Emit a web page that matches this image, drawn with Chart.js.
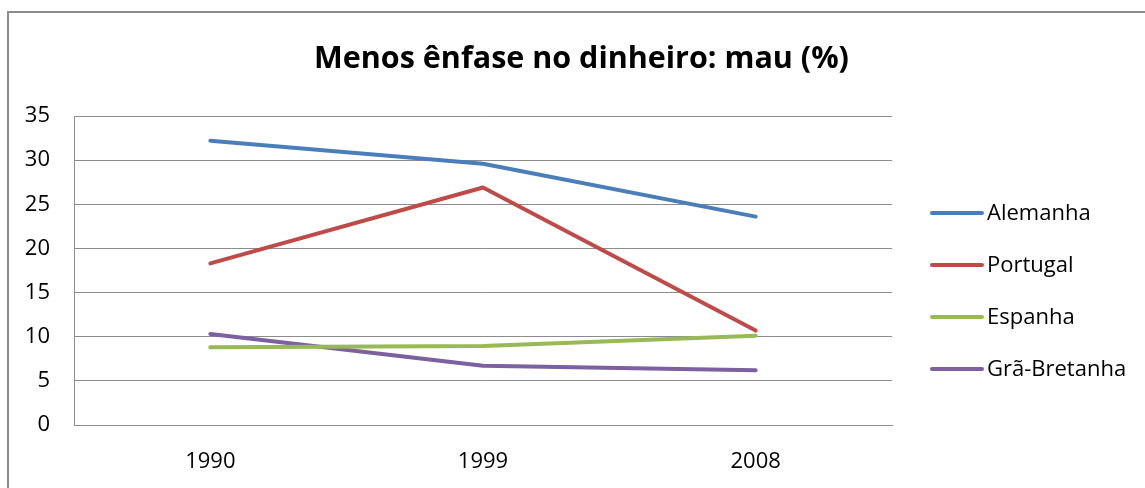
<!DOCTYPE html>
<html>
<head>
    <meta charset="UTF-8">
    <title>Menos ênfase no dinheiro: mau (%)</title>
    <script src="https://cdn.jsdelivr.net/npm/chart.js"></script>
    <style>
        body { margin: 0; background: #fff; overflow: hidden; }
        #frame {
            position: absolute; left: 7px; top: 11px; width: 1200px; height: 600px;
            border-left: 2px solid #8c8c8c; border-top: 2px solid #8c8c8c;
        }
        #wrap { position: absolute; left: 0; top: 0; width: 1145px; height: 488px; }
    </style>
</head>
<body>
    <div id="frame"></div>
    <div id="wrap"><canvas id="chart" width="1145" height="488"></canvas></div>

    <script>
        // Dados do grafico
        var chartTitle = 'Menos ênfase no dinheiro: mau (%)';
        var years = ['1990', '1999', '2008'];
        var alemanha = [32.2, 29.6, 23.6];
        var portugal = [18.3, 26.9, 10.7];
        var espanha = [8.8, 8.95, 10.1];
        var graBretanha = [10.3, 6.7, 6.2];
        var seriesNames = ['Alemanha', 'Portugal', 'Espanha', 'Grã-Bretanha'];
        var seriesColors = ['#4A7EBB', '#BE4B48', '#98B954', '#7D60A0'];
        var yTicks = [0, 5, 10, 15, 20, 25, 30, 35];

        var fontFamily = "'Open Sans', sans-serif";
        var gridColor = '#8c8c8c';

        function makeDataset(i, values) {
            return {
                label: seriesNames[i],
                data: values,
                borderColor: seriesColors[i],
                backgroundColor: seriesColors[i],
                borderWidth: 4,
                borderCapStyle: 'round',
                borderJoinStyle: 'round',
                pointRadius: 0,
                pointHoverRadius: 0,
                tension: 0,
                fill: false
            };
        }

        // Titulo e legenda no estilo do Excel (legenda a direita, titulo centrado no quadro)
        var excelTitleLegend = {
            id: 'excelTitleLegend',
            afterDraw: function(chart) {
                var c = chart.ctx;
                var area = chart.chartArea;
                c.save();
                c.fillStyle = '#000';
                c.font = 'bold 30.5px ' + fontFamily;
                c.textAlign = 'center';
                c.textBaseline = 'alphabetic';
                c.fillText(chartTitle, chart.width / 2 + 9, 68);

                c.font = '22px ' + fontFamily;
                c.textAlign = 'left';
                c.textBaseline = 'middle';
                c.lineWidth = 4;
                c.lineCap = 'round';
                chart.data.datasets.forEach(function(ds, i) {
                    var y = area.top + 97 + i * 52;
                    c.strokeStyle = ds.borderColor;
                    c.beginPath();
                    c.moveTo(area.right + 40, y);
                    c.lineTo(area.right + 90, y);
                    c.stroke();
                    c.fillText(ds.label, area.right + 95, y + 1);
                });
                c.restore();
            }
        };

        var ctx = document.getElementById('chart').getContext('2d');
        var chart = new Chart(ctx, {
            type: 'line',
            data: {
                labels: years,
                datasets: [
                    makeDataset(0, alemanha),
                    makeDataset(1, portugal),
                    makeDataset(2, espanha),
                    makeDataset(3, graBretanha)
                ]
            },
            options: {
                responsive: false,
                animation: false,
                layout: { padding: { left: 20, right: 253, top: 116, bottom: 0 } },
                plugins: {
                    title: { display: false },
                    legend: { display: false },
                    tooltip: { enabled: false }
                },
                scales: {
                    x: {
                        offset: true,
                        grid: { display: false, drawTicks: false },
                        border: { display: true, color: gridColor, width: 1 },
                        ticks: {
                            color: '#000',
                            font: { family: fontFamily, size: 22 },
                            padding: 24,
                            maxRotation: 0
                        },
                        afterFit: function(scale) { scale.height = 63; }
                    },
                    y: {
                        min: 0,
                        max: 35,
                        grid: { color: gridColor, lineWidth: 1, drawTicks: false },
                        border: { display: true, color: gridColor, width: 1 },
                        afterBuildTicks: function(scale) {
                            scale.ticks = yTicks.map(function(v) { return { value: v }; });
                        },
                        ticks: {
                            color: '#000',
                            font: { family: fontFamily, size: 22 },
                            padding: 24
                        },
                        afterFit: function(scale) { scale.width = 54; }
                    }
                }
            },
            plugins: [excelTitleLegend]
        });
    </script>
</body>
</html>
